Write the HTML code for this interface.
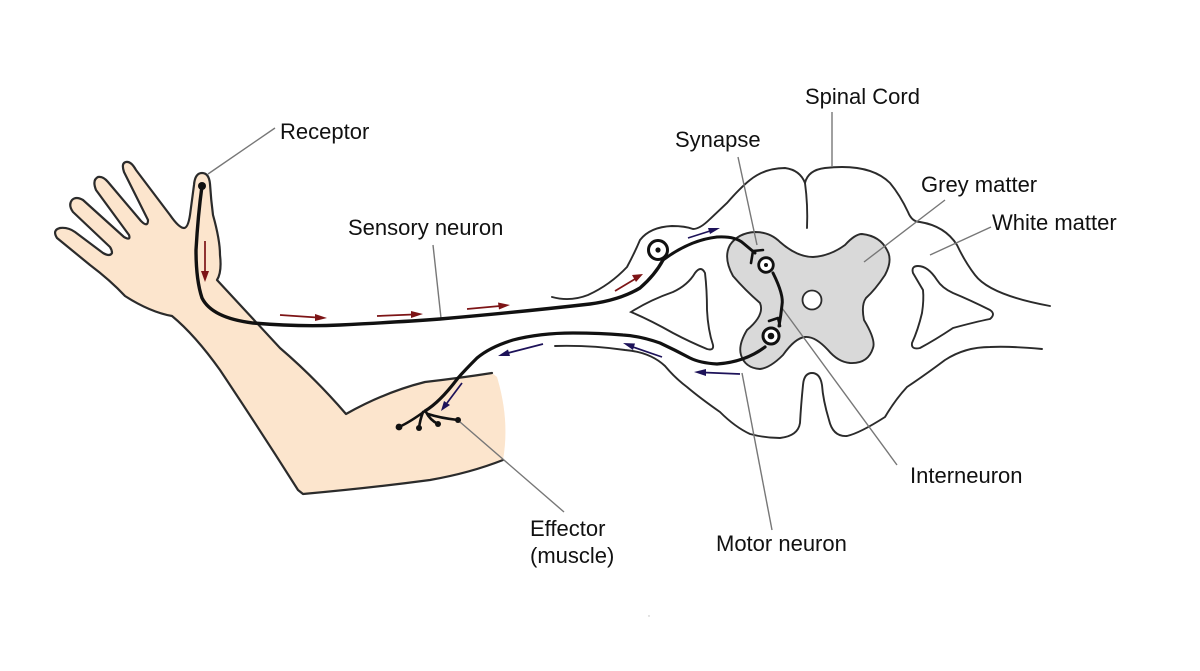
<!DOCTYPE html>
<html>
<head>
<meta charset="utf-8">
<style>
html,body{margin:0;padding:0;background:#fff;}
svg{display:block;}
text{font-family:"Liberation Sans",Arial,sans-serif;font-size:22px;fill:#111;}
</style>
</head>
<body>
<svg width="1200" height="671" viewBox="0 0 1200 671" xmlns="http://www.w3.org/2000/svg">
<rect width="1200" height="671" fill="#fff"/>
<g style="filter:blur(0.35px)">
<!-- arm fill -->
<path fill="#fce5cd" d="M503 460 Q470 473 430 480 Q370 488 303 494 L298 490 Q260 430 220 370 Q195 335 172 316 Q150 312 125 296 Q110 280 90 265 L57 238 Q52 230 60 228 Q68 227 75 232 L103 253 Q110 257 112 253 Q112 250 110 247 L73 212 Q68 205 72 200 Q76 196 83 200 L124 237 Q131 241 129 235 L96 190 Q92 180 98 177 Q103 176 108 182 L141 221 Q148 228 148 220 L124 172 Q121 163 126 162 Q131 161 136 170 L170 215 Q179 228 184 228 Q188 228 190 215 Q192 200 194 185 Q195 173 202 173 Q209 173 210 184 Q211 200 213 215 Q220 240 220 255 Q222 272 217 280 L280 348 Q315 378 346 414 Q385 392 425 382 Q460 378 492 373 L497 377 Q510 420 503 460Z"/>
<!-- arm outline -->
<path fill="none" stroke="#2b2b2b" stroke-width="2.2" stroke-linejoin="round" stroke-linecap="round" d="M503 460 Q470 473 430 480 Q370 488 303 494 L298 490 Q260 430 220 370 Q195 335 172 316 Q150 312 125 296 Q110 280 90 265 L57 238 Q52 230 60 228 Q68 227 75 232 L103 253 Q110 257 112 253 Q112 250 110 247 L73 212 Q68 205 72 200 Q76 196 83 200 L124 237 Q131 241 129 235 L96 190 Q92 180 98 177 Q103 176 108 182 L141 221 Q148 228 148 220 L124 172 Q121 163 126 162 Q131 161 136 170 L170 215 Q179 228 184 228 Q188 228 190 215 Q192 200 194 185 Q195 173 202 173 Q209 173 210 184 Q211 200 213 215 Q220 240 220 255 Q222 272 217 280 L280 348 Q315 378 346 414 Q385 392 425 382 Q460 378 492 373"/>

<!-- grey matter -->
<path fill="#d9d9d9" stroke="#2b2b2b" stroke-width="1.9" d="M755 232 Q770 232 780 242 Q797 257 813 257 Q830 256 845 245 Q855 234 862 234 Q880 236 887 250 Q893 260 885 275 Q875 290 866 298 Q861 305 864 320 Q876 340 873 348 Q868 364 850 363 Q838 362 828 350 Q815 336 805 337 Q795 338 783 355 Q770 368 760 369 Q745 368 741 355 Q738 345 747 330 Q765 315 760 303 Q745 290 733 276 Q723 258 730 245 Q738 233 755 232Z"/>
<circle cx="812" cy="300" r="9.5" fill="#fff" stroke="#2b2b2b" stroke-width="1.8"/>

<!-- spinal outlines -->
<g fill="none" stroke="#2b2b2b" stroke-width="1.9" stroke-linecap="round">
<path d="M552 297 Q570 302 588 295 Q610 285 627 267 Q635 252 640 240 Q650 227 672 226 Q685 226 693 229 Q700 229 710 219 L727 203 Q740 188 750 180 Q765 168 785 168 Q800 170 805 183 Q808 170 825 168 Q870 163 890 183 Q900 195 908 212 Q912 222 920 222 Q945 226 957 245 Q965 262 975 275 Q990 295 1050 306"/>
<path d="M805 183 Q808 205 807 228"/>
<path d="M1042 349 Q1010 346 990 347 Q965 347 945 360 Q925 375 907 387 Q895 400 885 417 Q860 433 847 436 Q833 437 829 420 Q823 400 822 385 Q820 373 812 373 Q804 373 803 385 Q801 405 800 423 Q798 436 780 438 Q765 438 750 434 Q735 427 720 412 Q700 398 687 387 Q675 378 665 366 Q650 352 625 350 Q590 345 555 346"/>
<path d="M631 312 Q650 300 673 292 Q688 285 695 273 Q701 265 705 273 Q707 290 707 310 Q708 330 713 345 Q714 351 707 349 Q690 342 673 333 Q650 320 631 312Z"/>
<path d="M918 266 Q911 266 913 273 Q920 285 923 290 Q924 300 922 313 Q918 330 912 343 Q911 350 920 348 Q935 340 953 328 Q975 322 990 319 Q996 314 990 310 Q970 300 953 293 Q942 288 937 280 Q928 266 918 266Z"/>
</g>

<!-- leader lines -->
<g stroke="#777" stroke-width="1.4" fill="none">
<path d="M275 128 L208 174"/>
<path d="M832 112 L832 167"/>
<path d="M738 157 L757 245"/>
<path d="M742 373 L772 530"/>
<path d="M782 308 L897 465"/>
<path d="M945 200 L864 262"/>
<path d="M991 227 L930 255"/>
<path d="M433 245 L441 318"/>
<path d="M460 422 L564 512"/>
</g>

<!-- neurons -->
<g fill="none" stroke="#111" stroke-linecap="round" stroke-linejoin="round">
<path stroke-width="3.4" d="M202 186 Q198 215 196 250 Q196 280 202 298 Q212 318 253 323 Q300 327 340 325 Q400 322 440 319 Q520 312 590 304 Q620 300 640 288 Q655 275 663 260"/>
<path stroke-width="3" d="M663 260 Q690 240 717 237 Q735 236 743 243 L755 253"/>
<path stroke-width="2.6" d="M751 263 L753 251 L763 250"/>
<path stroke-width="3" d="M773 273 Q784 295 782 305 Q781 315 779 326"/>
<path stroke-width="2.6" d="M769 321 L778 318 L780 326"/>
<path stroke-width="3.2" d="M765 347 Q745 362 717 364 Q700 363 690 358 Q675 350 660 343 Q640 336 623 335 Q600 333 573 333 Q540 333 513 340 Q490 347 477 358 Q465 370 458 378 Q440 402 425 411"/>
<path stroke-width="2.6" d="M425 411 Q410 422 399 427"/>
<path stroke-width="2.6" d="M423 412 Q420 420 419 428"/>
<path stroke-width="2.6" d="M426 412 Q430 420 438 424"/>
<path stroke-width="2.6" d="M428 414 Q440 418 458 420"/>
</g>
<g fill="#111">
<circle cx="202" cy="186" r="4"/>
<circle cx="399" cy="427" r="3.4"/>
<circle cx="419" cy="428" r="3"/>
<circle cx="438" cy="424" r="3"/>
<circle cx="458" cy="420" r="3"/>
</g>
<g fill="#fff" stroke="#111">
<circle cx="658" cy="250" r="9.5" stroke-width="3"/>
<circle cx="766" cy="265" r="7.3" stroke-width="2.8"/>
<circle cx="771" cy="336" r="8" stroke-width="3"/>
</g>
<g fill="#111">
<circle cx="658" cy="250" r="2.6"/>
<circle cx="766" cy="265" r="2"/>
<circle cx="771" cy="336" r="3.3"/>
</g>

<!-- red arrows -->
<g stroke="#7d1416" stroke-width="1.7" fill="#7d1416">
<path d="M205 241 L205 272"/><path stroke="none" d="M201 271 L209 271 L205 282Z"/>
<path d="M280 315 L317 317.5"/><path stroke="none" d="M315 314 L327 318 L315 321Z"/>
<path d="M377 316 L413 314.5"/><path stroke="none" d="M411 311 L423 314 L411 318Z"/>
<path d="M467 309 L500 306"/><path stroke="none" d="M498 302.500 L510 305 L499 309.500Z"/>
<path d="M615 291 L635 279"/><path stroke="none" d="M632 275 L643 274 L636 282Z"/>
</g>
<!-- blue arrows -->
<g stroke="#1d1259" stroke-width="1.7" fill="#1d1259">
<path d="M688 238 L710 231"/><path stroke="none" d="M708 228 L720 228 L710 234Z"/>
<path d="M662 357 L633 347"/><path stroke="none" d="M635 343.500 L623 343 L633 350Z"/>
<path d="M740 374 L704 372.500"/><path stroke="none" d="M706 369 L694 372 L706 376Z"/>
<path d="M543 344 L508 353"/><path stroke="none" d="M508 349.500 L498 356 L510 356Z"/>
<path d="M462 383 L447 403"/><path stroke="none" d="M444 401 L441 411 L450 405Z"/>
</g>
<circle cx="649" cy="616" r="0.7" fill="#bbb"/>
</g>

<!-- labels -->
<text x="280" y="139">Receptor</text>
<text x="805" y="104">Spinal Cord</text>
<text x="675" y="147">Synapse</text>
<text x="921" y="192">Grey matter</text>
<text x="992" y="230">White matter</text>
<text x="348" y="235">Sensory neuron</text>
<text x="910" y="483">Interneuron</text>
<text x="716" y="551">Motor neuron</text>
<text x="530" y="536">Effector</text>
<text x="530" y="563">(muscle)</text>
</svg>
</body>
</html>
